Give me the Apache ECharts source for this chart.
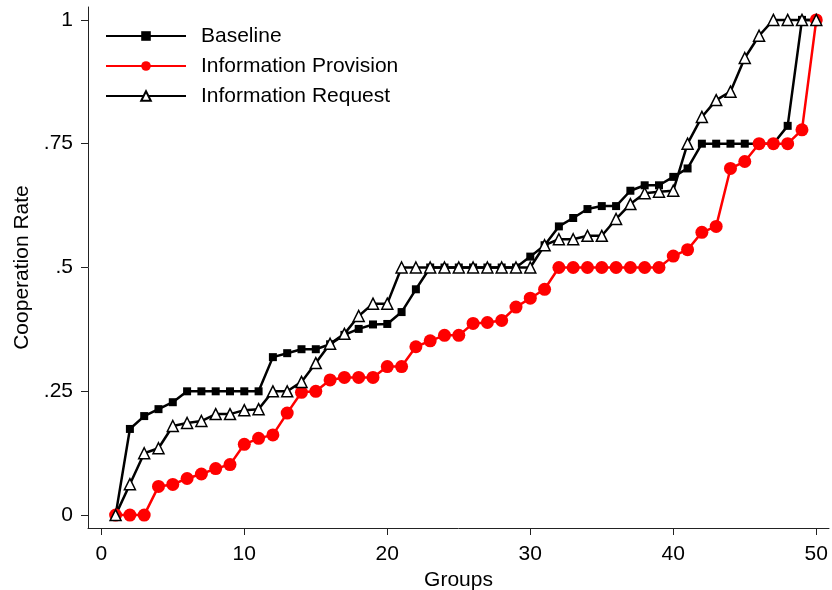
<!DOCTYPE html>
<html>
<head>
<meta charset="utf-8">
<script src="https://cdn.jsdelivr.net/npm/echarts@6/dist/echarts.min.js"></script>
<style>
html,body{margin:0;padding:0;background:#fff;}
#chart{width:832px;height:590px;}
</style>
</head>
<body>
<div id="chart"></div>
<script>
var groups = [1,2,3,4,5,6,7,8,9,10,11,12,13,14,15,16,17,18,19,20,21,22,23,24,25,26,27,28,29,30,31,32,33,34,35,36,37,38,39,40,41,42,43,44,45,46,47,48,49,50];
var baseline = [0,.174,.2,.214,.228,.25,.25,.25,.25,.25,.25,.319,.327,.335,.335,.345,.364,.376,.385,.386,.41,.456,.5,.5,.5,.5,.5,.5,.5,.522,.545,.583,.6,.618,.624,.624,.655,.666,.666,.683,.7,.75,.75,.75,.75,.75,.75,.786,1,1];
var provision = [0,0,0,.058,.062,.074,.083,.094,.102,.143,.155,.162,.206,.248,.25,.273,.278,.278,.278,.3,.3,.34,.352,.363,.363,.387,.389,.393,.42,.438,.456,.5,.5,.5,.5,.5,.5,.5,.5,.523,.536,.571,.583,.7,.714,.75,.75,.75,.778,1];
var request = [0,.0625,.125,.135,.18,.186,.19,.204,.204,.212,.214,.25,.25,.269,.307,.346,.366,.402,.427,.427,.5,.5,.5,.5,.5,.5,.5,.5,.5,.5,.545,.557,.557,.564,.564,.598,.628,.65,.653,.655,.75,.804,.838,.855,.923,.968,1,1,1,1];
var xTicks = [0,10,20,30,40,50];
var yTicks = [0,.25,.5,.75,1];
var yTickLabels = ['0','.25','.5','.75','1'];
var seriesNames = ['Baseline','Information Provision','Information Request'];

function pairs(vals){ return groups.map(function(g,i){ return [g, vals[i]]; }); }

var FONT = 'Liberation Sans, Arial, sans-serif';
var chart = echarts.init(document.getElementById('chart'), null, {renderer:'canvas'});
chart.setOption({
  animation:false,
  backgroundColor:'#fff',
  grid:{left:88,right:3,top:7,bottom:62,containLabel:false,outerBoundsMode:'none'},
  legend:{
    left:105, top:24, orient:'vertical', padding:0,
    itemWidth:80, itemHeight:12, itemGap:6,
    textStyle:{fontFamily:FONT,fontSize:21,color:'#000',lineHeight:24,padding:[0,0,0,10]},
    data:seriesNames
  },
  xAxis:{
    type:'value', min:-0.93, max:50.89,
    name:'Groups', nameLocation:'middle', nameGap:37,
    nameTextStyle:{fontFamily:FONT,fontSize:21,color:'#000'},
    axisLine:{show:true,onZero:false,lineStyle:{color:'#222',width:1}},
    axisTick:{show:true,length:7,customValues:xTicks,lineStyle:{color:'#222'}},
    axisLabel:{customValues:xTicks,margin:16,fontFamily:FONT,fontSize:21,color:'#000'},
    splitLine:{show:false}
  },
  yAxis:{
    type:'value', min:-0.026, max:1.026,
    name:'Cooperation Rate', nameLocation:'middle', nameGap:55,
    nameTextStyle:{fontFamily:FONT,fontSize:21,color:'#000'},
    axisLine:{show:true,onZero:false,lineStyle:{color:'#222',width:1}},
    axisTick:{show:true,length:7,customValues:yTicks,lineStyle:{color:'#222'}},
    axisLabel:{customValues:yTicks,margin:15,fontFamily:FONT,fontSize:21,color:'#000',
      formatter:function(v){ var i=yTicks.indexOf(v); return i>=0?yTickLabels[i]:''; }},
    splitLine:{show:false}
  },
  series:[
    {name:seriesNames[0],type:'line',data:pairs(baseline),symbol:'rect',symbolSize:8,
     lineStyle:{color:'#000',width:2.5},itemStyle:{color:'#000'},color:'#000'},
    {name:seriesNames[1],type:'line',data:pairs(provision),symbol:'circle',symbolSize:13,
     lineStyle:{color:'#ff0000',width:2.5},itemStyle:{color:'#ff0000'},color:'#ff0000'},
    {name:seriesNames[2],type:'line',data:pairs(request),symbol:'triangle',symbolSize:11,
     lineStyle:{color:'#000',width:2.5},itemStyle:{color:'#fff',borderColor:'#000',borderWidth:1.5},color:'#000'}
  ]
});
</script>
</body>
</html>
